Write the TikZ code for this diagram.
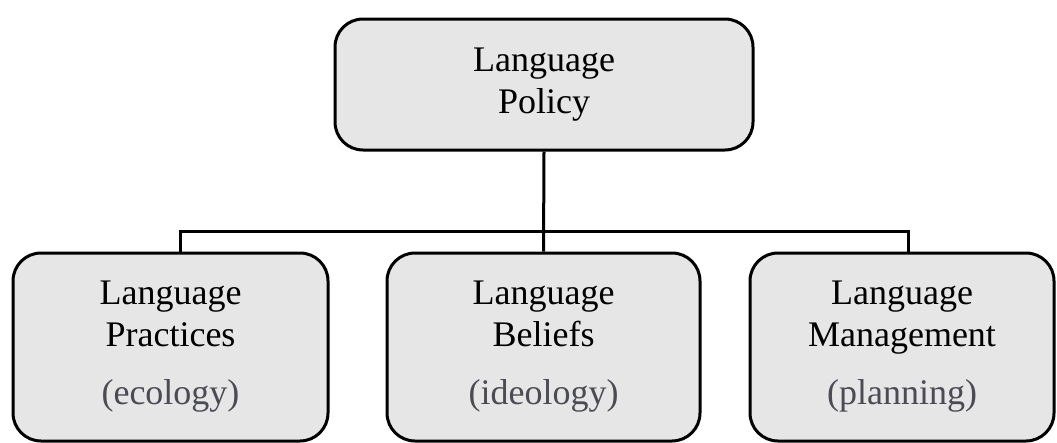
\documentclass[tikz,border=0pt]{standalone}
\usepackage{fontspec}
\setmainfont{Liberation Serif}
\definecolor{boxgray}{RGB}{230,230,230}
\definecolor{notegray}{RGB}{75,75,85}
\tikzset{pbox/.style={draw, line width=3pt, fill=boxgray, rounded corners=28pt,
		inner sep=0pt, align=center, font=\fontsize{36}{42}\selectfont}}
\tikzset{link/.style={line width=3pt}}

\begin{document}
\begin{tikzpicture}[x=1pt,y=-1pt]
		\useasboundingbox (0,0) rectangle (1057,442);
		\clip (0,0) rectangle (1057,442);
		
		\node[pbox, minimum width=418pt, minimum height=131pt] (policy) at (544,84.5) {Language\\Policy};
		
		\node[pbox, minimum width=315pt, minimum height=188pt] (practices) at (170.5,347)
			{Language\\Practices\\[16pt]\textcolor{notegray}{(ecology)}};
		\node[pbox, minimum width=313pt, minimum height=188pt] (beliefs) at (543.5,347)
			{Language\\Beliefs\\[16pt]\textcolor{notegray}{(ideology)}};
		\node[pbox, minimum width=304pt, minimum height=188pt] (management) at (902,347)
			{Language\\Management\\[16pt]\textcolor{notegray}{(planning)}};
		
		\draw[link] (policy.south) -- (beliefs.north);
		\draw[link] ([xshift=9.5pt]practices.north) -- ++(0,-20) -| ([xshift=6pt]management.north);
		
\end{tikzpicture}
\end{document}
